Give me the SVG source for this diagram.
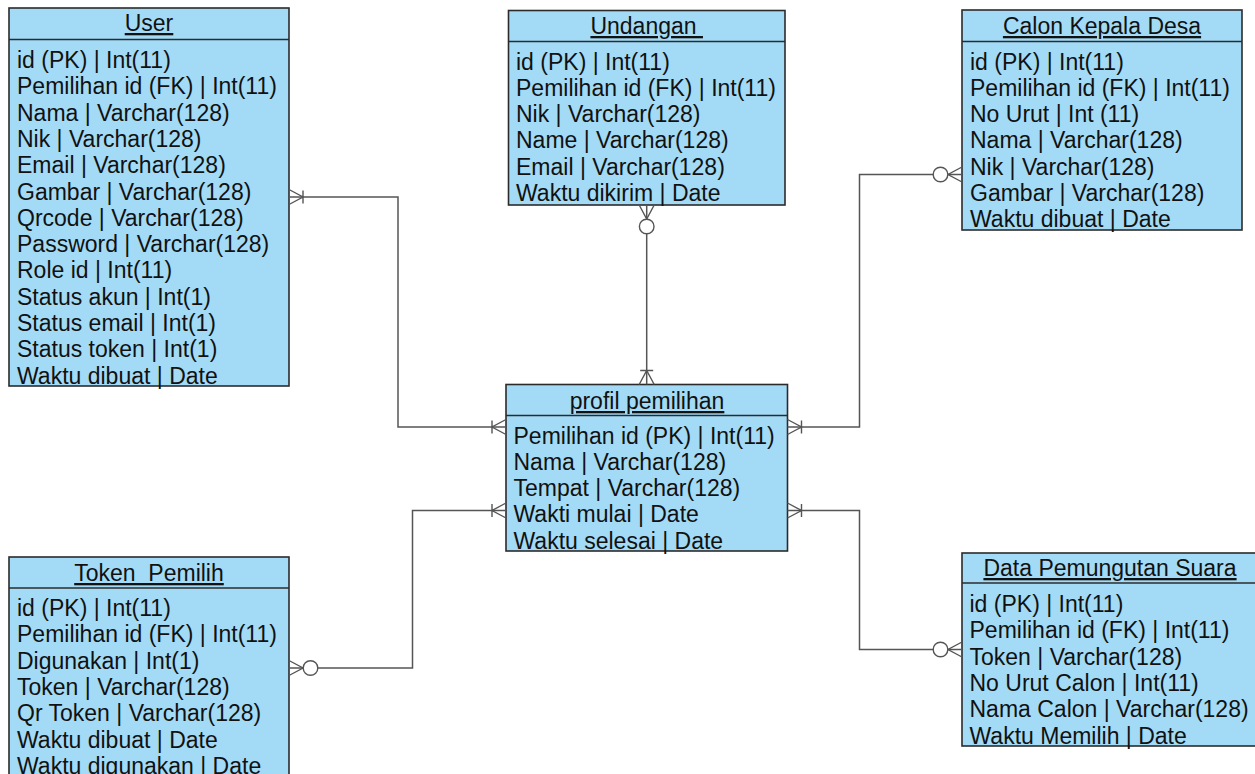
<svg xmlns="http://www.w3.org/2000/svg" width="1255" height="774" viewBox="0 0 1255 774">
  <style>
    .box { fill: #a3dbf7; stroke: #2b2b2b; stroke-width: 1.6; }
    .sep { stroke: #2b2b2b; stroke-width: 1.6; }
    .title { font-family: "Liberation Sans", Arial, sans-serif; font-size: 23px; fill: #111; text-anchor: middle; text-decoration: underline; white-space: pre; }
    .attr { font-family: "Liberation Sans", Arial, sans-serif; font-size: 23px; fill: #111; }
    .rel { fill: none; stroke: #555; stroke-width: 1.5; }
    .mk { fill: none; stroke: #555; stroke-width: 1.4; }
  </style>
  <defs>
    <!-- crow's foot with a bar: one or many -->
    <marker id="oneMany" markerUnits="userSpaceOnUse" viewBox="-32 -12 34 24" markerWidth="34" markerHeight="24" refX="0" refY="0" orient="auto-start-reverse" overflow="visible">
      <path class="mk" d="M0,-7.5 L-14,0 L0,7.5 M-14,-6.5 V6.5"/>
    </marker>
    <!-- crow's foot with a ring: zero or many -->
    <marker id="zeroMany" markerUnits="userSpaceOnUse" viewBox="-32 -12 34 24" markerWidth="34" markerHeight="24" refX="0" refY="0" orient="auto-start-reverse" overflow="visible">
      <path class="mk" d="M0,-7.5 L-14,0 L0,7.5"/>
      <circle cx="-21.5" cy="0" r="7.3" fill="#fff" stroke="#555" stroke-width="1.4"/>
    </marker>
  </defs>

  <rect width="1255" height="774" fill="#fff"/>

  <g id="user">
    <rect class="box" x="9" y="8" width="280" height="378"/>
    <line class="sep" x1="9" y1="39.5" x2="289" y2="39.5"/>
    <text class="title" x="149" y="31">User</text>
    <text class="attr" x="17" y="68">id (PK) | Int(11)</text>
    <text class="attr" x="17" y="94.3">Pemilihan id (FK) | Int(11)</text>
    <text class="attr" x="17" y="120.6">Nama | Varchar(128)</text>
    <text class="attr" x="17" y="146.9">Nik | Varchar(128)</text>
    <text class="attr" x="17" y="173.2">Email | Varchar(128)</text>
    <text class="attr" x="17" y="199.5">Gambar | Varchar(128)</text>
    <text class="attr" x="17" y="225.8">Qrcode | Varchar(128)</text>
    <text class="attr" x="17" y="252.1">Password | Varchar(128)</text>
    <text class="attr" x="17" y="278.4">Role id | Int(11)</text>
    <text class="attr" x="17" y="304.7">Status akun | Int(1)</text>
    <text class="attr" x="17" y="331">Status email | Int(1)</text>
    <text class="attr" x="17" y="357.3">Status token | Int(1)</text>
    <text class="attr" x="17" y="383.6">Waktu dibuat | Date</text>
  </g>

  <g id="undangan">
    <rect class="box" x="508.5" y="10.5" width="276.5" height="194.5"/>
    <line class="sep" x1="508.5" y1="41.5" x2="785" y2="41.5"/>
    <text class="title" x="646.7" y="34">Undangan </text>
    <text class="attr" x="516" y="69.5">id (PK) | Int(11)</text>
    <text class="attr" x="516" y="95.8">Pemilihan id (FK) | Int(11)</text>
    <text class="attr" x="516" y="122.1">Nik | Varchar(128)</text>
    <text class="attr" x="516" y="148.4">Name | Varchar(128)</text>
    <text class="attr" x="516" y="174.7">Email | Varchar(128)</text>
    <text class="attr" x="516" y="201">Waktu dikirim | Date</text>
  </g>

  <g id="calon-kepala-desa">
    <rect class="box" x="962" y="10" width="280" height="220"/>
    <line class="sep" x1="962" y1="41.5" x2="1242" y2="41.5"/>
    <text class="title" x="1102" y="34">Calon Kepala Desa</text>
    <text class="attr" x="970" y="69.5">id (PK) | Int(11)</text>
    <text class="attr" x="970" y="95.8">Pemilihan id (FK) | Int(11)</text>
    <text class="attr" x="970" y="122.1">No Urut | Int (11)</text>
    <text class="attr" x="970" y="148.4">Nama | Varchar(128)</text>
    <text class="attr" x="970" y="174.7">Nik | Varchar(128)</text>
    <text class="attr" x="970" y="201">Gambar | Varchar(128)</text>
    <text class="attr" x="970" y="227.3">Waktu dibuat | Date</text>
  </g>

  <g id="profil-pemilihan">
    <rect class="box" x="506" y="384.5" width="281.5" height="166.5"/>
    <line class="sep" x1="506" y1="415.5" x2="787.5" y2="415.5"/>
    <text class="title" x="647" y="409">profil pemilihan</text>
    <text class="attr" x="513.5" y="443.5">Pemilihan id (PK) | Int(11)</text>
    <text class="attr" x="513.5" y="469.8">Nama | Varchar(128)</text>
    <text class="attr" x="513.5" y="496.1">Tempat | Varchar(128)</text>
    <text class="attr" x="513.5" y="522.4">Wakti mulai | Date</text>
    <text class="attr" x="513.5" y="548.7">Waktu selesai | Date</text>
  </g>

  <g id="token-pemilih">
    <rect class="box" x="9" y="557" width="280" height="230"/>
    <line class="sep" x1="9" y1="588" x2="289" y2="588"/>
    <text class="title" x="149" y="581">Token  Pemilih</text>
    <text class="attr" x="17" y="616">id (PK) | Int(11)</text>
    <text class="attr" x="17" y="642.3">Pemilihan id (FK) | Int(11)</text>
    <text class="attr" x="17" y="668.6">Digunakan | Int(1)</text>
    <text class="attr" x="17" y="694.9">Token | Varchar(128)</text>
    <text class="attr" x="17" y="721.2">Qr Token | Varchar(128)</text>
    <text class="attr" x="17" y="747.5">Waktu dibuat | Date</text>
    <text class="attr" x="17" y="773.8">Waktu digunakan | Date</text>
  </g>

  <g id="data-pemungutan-suara">
    <rect class="box" x="962" y="553" width="297" height="193"/>
    <line class="sep" x1="962" y1="583" x2="1259" y2="583"/>
    <text class="title" x="1110" y="576">Data Pemungutan Suara</text>
    <text class="attr" x="969.5" y="612">id (PK) | Int(11)</text>
    <text class="attr" x="969.5" y="638.3">Pemilihan id (FK) | Int(11)</text>
    <text class="attr" x="969.5" y="664.6">Token | Varchar(128)</text>
    <text class="attr" x="969.5" y="690.9">No Urut Calon | Int(11)</text>
    <text class="attr" x="969.5" y="717.2">Nama Calon | Varchar(128)</text>
    <text class="attr" x="969.5" y="743.5">Waktu Memilih | Date</text>
  </g>

  <g id="relations">
    <path class="rel" d="M289,197 H398 V427 H506" marker-start="url(#oneMany)" marker-end="url(#oneMany)"/>
    <path class="rel" d="M646.7,205 V384.5" marker-start="url(#zeroMany)" marker-end="url(#oneMany)"/>
    <path class="rel" d="M962,174.5 H859.5 V427 H787.5" marker-start="url(#zeroMany)" marker-end="url(#oneMany)"/>
    <path class="rel" d="M289,668 H412.5 V510.5 H506" marker-start="url(#zeroMany)" marker-end="url(#oneMany)"/>
    <path class="rel" d="M962,649.5 H859.5 V510.5 H787.5" marker-start="url(#zeroMany)" marker-end="url(#oneMany)"/>
  </g>
</svg>
